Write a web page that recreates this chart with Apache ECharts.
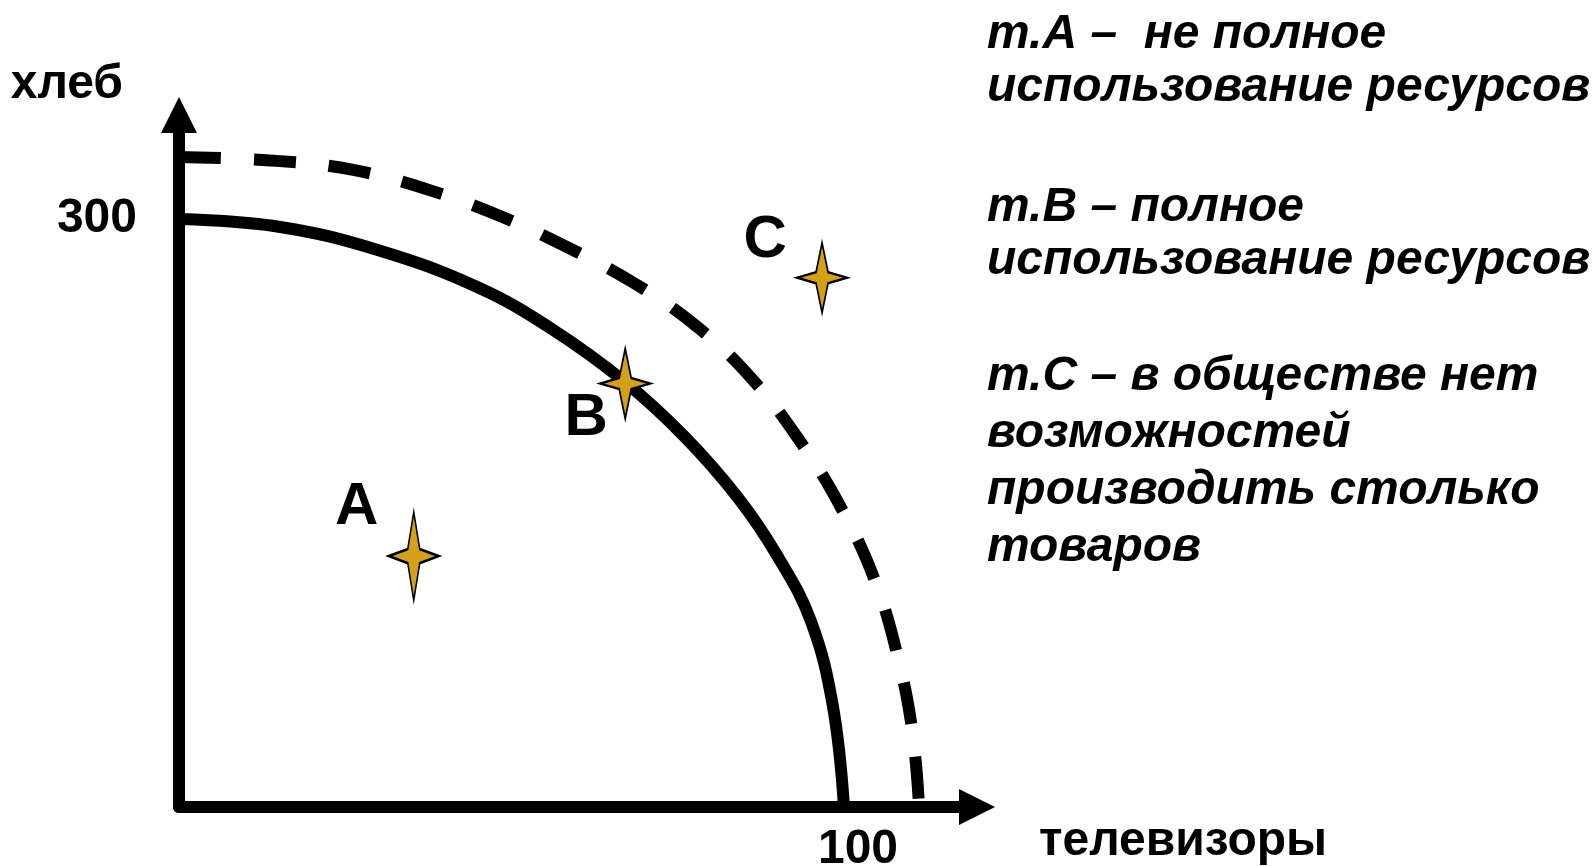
<!DOCTYPE html>
<html>
<head>
<meta charset="utf-8">
<title>КПВ</title>
<script src="https://cdn.jsdelivr.net/npm/echarts@6/dist/echarts.min.js"></script>
<style>
  html, body { margin: 0; padding: 0; background: #fff; }
  #chart { width: 1595px; height: 866px; }
</style>
</head>
<body>
<div id="chart"></div>
<script>
// кривая производственных возможностей (сплошная)
const frontierX = [0, 15, 30, 45, 56, 67, 76, 84, 90, 95, 98.3, 100];
const frontierY = [300, 296, 284, 265, 244, 217, 189, 158, 128, 95, 52, 0];
// смещённая кривая (пунктир)
const shiftedX = [0, 14.7, 26.2, 37.1, 47.9, 58.3, 68.4, 77.9, 86, 93.1, 99.5, 104.7, 108.2, 110.3, 111.3];
const shiftedY = [331.6, 329.6, 325, 315.3, 302, 285.7, 267.3, 245, 219, 188, 153, 115, 75, 38, 0];
// точки A, B, C
const pointNames = ["A", "B", "C"];
const pointX = [35.3, 67.1, 96.7];
const pointY = [128, 216, 270];
// подписи осей
const xTickLabels = [100];
const yTickLabels = [300];
const xName = "телевизоры";
const yName = "хлеб";
const notes = [
  "т.А –  не полное\nиспользование ресурсов",
  "т.В – полное\nиспользование ресурсов",
  "т.С – в обществе нет\nвозможностей\nпроизводить столько\nтоваров",
];

const FONT = "Liberation Sans";
const starPath = "path://M25,0 L31,37 L50,44 L31,51 L25,88 L19,51 L0,44 L19,37 Z";
const starSizes = [[50, 88], [50, 70], [50, 70]];
const labelOffsets = [[-57, -49], [-39, 35], [-57, -37]];
const noteTops = [8, 181, 348];
const noteLineHeights = [53, 53, 57];

let chart = echarts.init(document.getElementById("chart"));

const option = {
  animation: false,
  backgroundColor: "#fff",
  grid: {
    left: 179,
    right: 618,
    top: 115,
    bottom: 59,
    containLabel: false,
    outerBoundsMode: "none",
  },
  xAxis: {
    type: "value",
    min: 0,
    max: 120,
    interval: 100,
    name: xName,
    nameLocation: "end",
    nameGap: 62,
    nameMoveOverlap: false,
    nameTextStyle: {
      color: "#000",
      fontFamily: FONT,
      fontWeight: "bold",
      fontSize: 48,
      align: "left",
      verticalAlign: "top",
      padding: [11, 0, 0, 0],
    },
    axisLine: {
      symbol: ["none", "triangle"],
      symbolSize: [36, 36],
      lineStyle: { color: "#000", width: 12 },
    },
    axisTick: { show: false },
    splitLine: { show: false },
    axisLabel: {
      color: "#000",
      fontFamily: FONT,
      fontWeight: "bold",
      fontSize: 48,
      margin: 19,
      padding: [0, 0, 0, 28],
      formatter: function (v) {
        return xTickLabels.indexOf(v) >= 0 ? String(v) : "";
      },
    },
  },
  yAxis: {
    type: "value",
    min: 0,
    max: 353,
    interval: 300,
    name: yName,
    nameLocation: "end",
    nameGap: 30,
    nameMoveOverlap: false,
    nameTextStyle: {
      color: "#000",
      fontFamily: FONT,
      fontWeight: "bold",
      fontSize: 48,
      align: "right",
      verticalAlign: "middle",
      padding: [0, 56, 0, 0],
    },
    axisLine: {
      symbol: ["none", "triangle"],
      symbolSize: [36, 36],
      lineStyle: { color: "#000", width: 12 },
    },
    axisTick: { show: false },
    splitLine: { show: false },
    axisLabel: {
      color: "#000",
      fontFamily: FONT,
      fontWeight: "bold",
      fontSize: 48,
      margin: 42,
      formatter: function (v) {
        return yTickLabels.indexOf(v) >= 0 ? String(v) : "";
      },
    },
  },
  graphic: notes.map(function (t, i) {
    return {
      type: "text",
      left: 987,
      top: noteTops[i],
      style: {
        text: t,
        fill: "#000",
        fontFamily: FONT,
        fontWeight: "bold",
        fontStyle: "italic",
        fontSize: 48,
        lineHeight: noteLineHeights[i],
      },
    };
  }),
  series: [
    {
      type: "line",
      data: frontierX.map((x, i) => [x, frontierY[i]]),
      smooth: 0.4,
      showSymbol: false,
      symbol: "none",
      lineStyle: { color: "#000", width: 12 },
      z: 2,
    },
    {
      type: "line",
      data: shiftedX.map((x, i) => [x, shiftedY[i]]),
      smooth: 0.4,
      showSymbol: false,
      symbol: "none",
      lineStyle: { color: "#000", width: 12, type: [42, 33] },
      z: 2,
    },
    {
      type: "scatter",
      symbol: starPath,
      symbolSize: function (val, params) {
        return starSizes[params.dataIndex];
      },
      itemStyle: { color: "#D4A017", borderColor: "#000", borderWidth: 2, opacity: 1 },
      label: {
        show: true,
        position: "inside",
        formatter: "{b}",
        color: "#000",
        fontFamily: FONT,
        fontWeight: "bold",
        fontSize: 60,
      },
      data: pointNames.map((n, i) => ({
        name: n,
        value: [pointX[i], pointY[i]],
        label: { offset: labelOffsets[i] },
      })),
      z: 5,
    },
  ],
};

chart.setOption(option);
</script>
</body>
</html>
